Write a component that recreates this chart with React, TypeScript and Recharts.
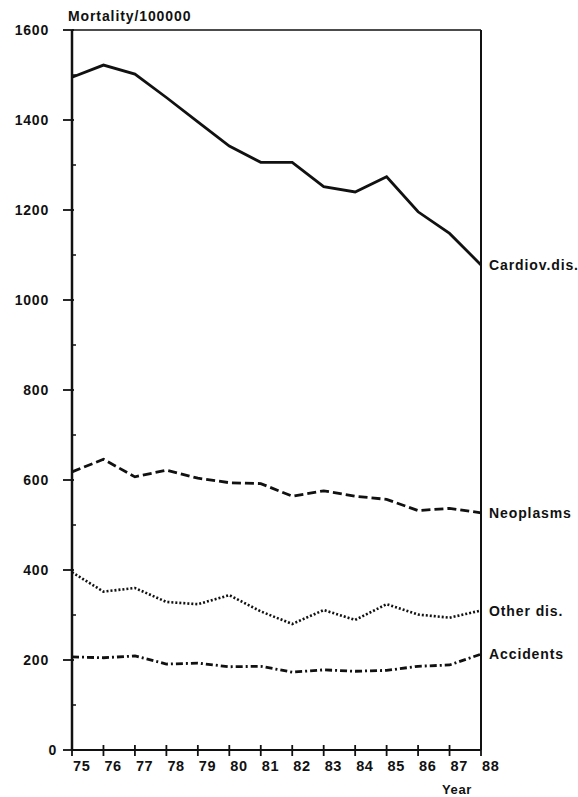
import React from "react";
import { LineChart, Line, XAxis, YAxis, ReferenceLine } from "recharts";

const years = [75, 76, 77, 78, 79, 80, 81, 82, 83, 84, 85, 86, 87, 88];
const cardiov = [1495, 1522, 1502, 1450, 1396, 1342, 1306, 1306, 1252, 1240, 1274, 1196, 1148, 1078];
const neoplasms = [618, 646, 607, 622, 604, 594, 592, 564, 576, 564, 557, 532, 537, 527];
const otherDis = [395, 352, 360, 329, 324, 344, 308, 280, 311, 289, 324, 301, 294, 310];
const accidents = [207, 205, 209, 191, 193, 185, 186, 173, 178, 175, 177, 186, 189, 213];
const yTicks = [0, 100, 200, 300, 400, 500, 600, 700, 800, 900, 1000, 1100, 1200, 1300, 1400, 1500, 1600];
const seriesNames = ["Cardiov.dis.", "Neoplasms", "Other dis.", "Accidents"];

const data = years.map((year, i) => ({
  year,
  cardiov: cardiov[i],
  neoplasms: neoplasms[i],
  otherDis: otherDis[i],
  accidents: accidents[i],
}));

const FONT = "'Liberation Sans', Arial, Helvetica, sans-serif";
const INK = "#111";

const XTick = (props: any) => {
  const { x, y, payload } = props;
  return (
    <g>
      <line x1={x} y1={y - 5} x2={x} y2={y + 6} stroke={INK} strokeWidth={1.8} />
      <text x={x + 1} y={y + 21} textAnchor="start" fontFamily={FONT} fontWeight="bold" fontSize={14.5} letterSpacing={0.6} fill={INK}>
        {payload.value}
      </text>
    </g>
  );
};

const YTick = (props: any) => {
  const { x, y, payload } = props;
  const v = payload.value;
  const major = v % 200 === 0;
  if (!major) {
    return <line x1={x} y1={y} x2={x + 4} y2={y} stroke={INK} strokeWidth={1.5} />;
  }
  return (
    <g>
      <line x1={x - 9} y1={y} x2={x + 2} y2={y} stroke={INK} strokeWidth={1.8} />
      <text x={v === 0 ? x - 15 : x - 23} y={y + 5} textAnchor="end" fontFamily={FONT} fontWeight="bold" fontSize={14} letterSpacing={0.8} fill={INK}>
        {v}
      </text>
    </g>
  );
};

const endLabel = (name: string) => (p: any) => {
  if (p.index !== years.length - 1) return <g />;
  return (
    <text x={p.x + 8} y={p.y + 5} fontFamily={FONT} fontWeight="bold" fontSize={14} letterSpacing={0.9} fill={INK}>
      {name}
    </text>
  );
};

export default function App() {
  return (
    <div style={{ position: "absolute", left: 0, top: 0, width: 578, height: 797, background: "#fff" }}>
      <LineChart width={578} height={797} data={data} margin={{ top: 30, right: 97, bottom: 17, left: 12 }}>
        <XAxis
          dataKey="year"
          type="number"
          domain={[75, 88]}
          ticks={years}
          interval={0}
          tickSize={0}
          tickMargin={0}
          height={30}
          axisLine={{ stroke: INK, strokeWidth: 2 }}
          tick={<XTick />}
          label={{
            content: (lp: any) => {
              const vb = lp.viewBox || {};
              return (
                <text x={vb.x + vb.width - 24} y={vb.y + 44} textAnchor="middle" fontFamily={FONT} fontWeight="bold" fontSize={13} letterSpacing={0.6} fill={INK}>
                  Year
                </text>
              );
            },
          }}
        />
        <YAxis
          type="number"
          domain={[0, 1600]}
          ticks={yTicks}
          interval={0}
          width={60}
          tickSize={0}
          tickMargin={0}
          axisLine={{ stroke: INK, strokeWidth: 2.5 }}
          tick={<YTick />}
          label={{
            content: (lp: any) => {
              const vb = lp.viewBox || {};
              return (
                <text x={vb.x + vb.width - 4} y={vb.y - 9} textAnchor="start" fontFamily={FONT} fontWeight="bold" fontSize={14} letterSpacing={0.9} fill={INK}>
                  Mortality/100000
                </text>
              );
            },
          }}
        />
        <ReferenceLine y={1600} stroke={INK} strokeWidth={1.5} />
        <ReferenceLine x={88} stroke={INK} strokeWidth={2} />
        <Line dataKey="cardiov" name={seriesNames[0]} type="linear" stroke={INK} strokeWidth={2.8} dot={false} isAnimationActive={false} label={endLabel(seriesNames[0])} />
        <Line dataKey="neoplasms" name={seriesNames[1]} type="linear" stroke={INK} strokeWidth={2.8} strokeDasharray="9 4" dot={false} isAnimationActive={false} label={endLabel(seriesNames[1])} />
        <Line dataKey="otherDis" name={seriesNames[2]} type="linear" stroke={INK} strokeWidth={2.6} strokeDasharray="2 2" dot={false} isAnimationActive={false} label={endLabel(seriesNames[2])} />
        <Line dataKey="accidents" name={seriesNames[3]} type="linear" stroke={INK} strokeWidth={2.8} strokeDasharray="7 3 2 3" dot={false} isAnimationActive={false} label={endLabel(seriesNames[3])} />
      </LineChart>
    </div>
  );
}
